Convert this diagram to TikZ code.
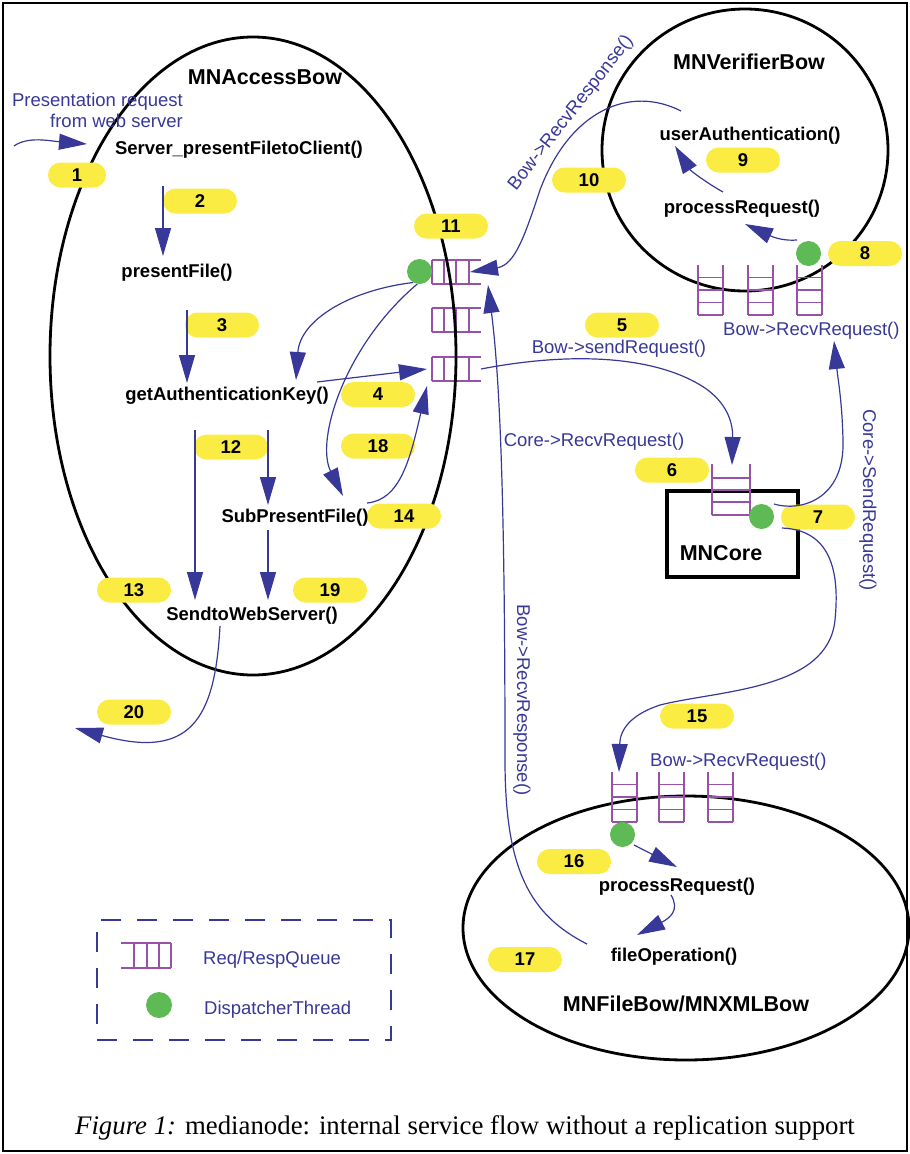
\documentclass[tikz,border=0pt]{standalone}
\usepackage{fontspec}
\setmainfont{Liberation Sans}
\newfontfamily\captionserif{Liberation Serif}
\usetikzlibrary{arrows.meta,shapes.geometric}
\definecolor{flowblue}{RGB}{56,56,152}
\definecolor{queuepurple}{RGB}{150,82,166}
\definecolor{threadgreen}{RGB}{94,186,84}
\definecolor{tagyellow}{RGB}{250,236,66}
\tikzset{
  qline/.style={queuepurple, line width=1.8pt},
  % horizontal request/response queue, closed on the left
  hq/.pic={
    \draw[qline] (0,0) -- (49,0) (0,24) -- (49,24)
      (0,0) -- (0,24) (12,0) -- (12,24) (24,0) -- (24,24) (37,0) -- (37,24);
    \coordinate (-west) at (0,12);
    \coordinate (-east) at (49,12);
  },
  % legend queue, closed on the right
  lq/.pic={
    \draw[qline] (0,0) -- (50,0) (0,25) -- (50,25)
      (13,0) -- (13,25) (26,0) -- (26,25) (38,0) -- (38,25) (50,0) -- (50,25);
  },
  % vertical queue, open at the top
  vq/.pic={
    \draw[qline] (0,0) -- (0,50) (25,0) -- (25,50)
      (0,12.5) -- (25,12.5) (0,25) -- (25,25) (0,37.5) -- (25,37.5) (0,50) -- (25,50);
    \coordinate (-top) at (12.5,0);
  },
  % wider vertical queue of the core
  cq/.pic={
    \draw[qline] (0,0) -- (0,51) (38,0) -- (38,51)
      (0,14) -- (38,14) (0,26) -- (38,26) (0,38) -- (38,38) (0,51) -- (38,51);
    \coordinate (-top) at (19,0);
  },
}
\begin{document}
\begin{tikzpicture}[x=1pt,y=-1pt,
  frame/.style={line width=2pt},
  container/.style={draw, line width=2.8pt, inner sep=0pt},
  flow/.style={flowblue, line width=1.2pt, -{Triangle[length=28pt,width=16pt]}},
  fn/.style={font=\bfseries\fontsize{18.5}{20}\selectfont, inner sep=0pt, anchor=base},
  title/.style={font=\bfseries\fontsize{21.5}{24}\selectfont, inner sep=0pt, anchor=base},
  call/.style={text=flowblue, font=\fontsize{18.5}{20}\selectfont, inner sep=0pt},
  tag/.style={fill=tagyellow, rounded corners=12.5pt, minimum width=74pt, minimum height=25pt,
    inner sep=0pt, font=\bfseries\fontsize{18.5}{20}\selectfont},
  thread/.style={circle, fill=threadgreen, minimum size=25pt, inner sep=0pt},
]
\useasboundingbox (0,0) rectangle (910,1154);
\draw[frame] (3,3) rectangle (907,1151);

% queues of MNAccessBow
\pic (q1) at (432,260) {hq};
\pic (q2) at (432,308) {hq};
\pic (q3) at (432,357) {hq};

% service containers
\node[container, ellipse, minimum width=406pt, minimum height=638pt] (access) at (253,356) {};
\node[container, ellipse, minimum width=286pt, minimum height=282pt] (verifier) at (745,150) {};
\node[container, ellipse, minimum width=446pt, minimum height=264pt] (filebow) at (686,928) {};
\node[container, rectangle, line width=3.6pt, minimum width=131pt, minimum height=86pt] (core) at (732.5,534) {};

% step numbers
\node[tag, minimum width=58pt] (t1) at (77,175) {1};
\node[tag] (t2) at (200,201) {2};
\node[tag] (t3) at (222,325) {3};
\node[tag] (t4) at (378,394.5) {4};
\node[tag] (t5) at (622,325) {5};
\node[tag] (t6) at (672,470) {6};
\node[tag] (t7) at (818,517) {7};
\node[tag] (t8) at (865,253.5) {8};
\node[tag] (t9) at (743,160) {9};
\node[tag] (t10) at (589,180) {10};
\node[tag] (t11) at (451,226) {11};
\node[tag] (t12) at (231,447) {12};
\node[tag] (t13) at (134,590) {13};
\node[tag] (t14) at (404,516) {14};
\node[tag] (t15) at (697,716) {15};
\node[tag] (t16) at (574,861.5) {16};
\node[tag] (t17) at (525,959.5) {17};
\node[tag] (t18) at (378,446) {18};
\node[tag] (t19) at (330,590) {19};
\node[tag] (t20) at (134,712) {20};

% queues of the verifier, the core and the file bow
\pic (vq1) at (698,265) {vq};
\pic (vq2) at (748,265) {vq};
\pic (vq3) at (797,265) {vq};
\pic (cq) at (712,464) {cq};
\pic (fq1) at (612,772) {vq};
\pic (fq2) at (659,772) {vq};
\pic (fq3) at (708,772) {vq};

% dispatcher threads
\node[thread] (d1) at (419.5,271.5) {};
\node[thread] (dver) at (808.5,253.5) {};
\node[thread] (dcore) at (761.5,516.5) {};
\node[thread] (dfile) at (622.5,834.5) {};

% texts
\node[title] (accessT) at (265,84) {MNAccessBow};
\node[fn] (present) at (239,154) {Server\_presentFiletoClient()};
\node[fn] (pfile) at (177,277) {presentFile()};
\node[fn] (authkey) at (227,400) {getAuthenticationKey()};
\node[fn] (subpf) at (295,522) {SubPresentFile()};
\node[fn] (send) at (252,620) {SendtoWebServer()};
\node[title] (verT) at (749,69) {MNVerifierBow};
\node[fn] (userauth) at (750,140) {userAuthentication()};
\node[fn] (vproc) at (742,213) {processRequest()};
\node[title] (coreT) at (721,560) {MNCore};
\node[fn] (fproc) at (677,891) {processRequest()};
\node[fn] (fop) at (674,961) {fileOperation()};
\node[title] (fileT) at (686,1011) {MNFileBow/MNXMLBow};

\node[call, anchor=base east] (req1) at (183,106) {Presentation request};
\node[call, anchor=base east] (req2) at (183,127) {from web server};
\node[call, rotate=52] (respup) at (571,113) {Bow->RecvResponse()};
\node[call, anchor=base] (sendreq) at (619,353) {Bow->sendRequest()};
\node[call, anchor=base west] (recvver) at (723,335) {Bow->RecvRequest()};
\node[call, anchor=base] (corerecv) at (594,446) {Core->RecvRequest()};
\node[call, rotate=-90] (coresend) at (868,500) {Core->SendRequest()};
\node[call, rotate=-90] (respdown) at (522,700) {Bow->RecvResponse()};
\node[call, anchor=base west] (recvfile) at (650,766) {Bow->RecvRequest()};

% connector end points
\coordinate (webin) at (14,146);
\coordinate (webtip) at (87,144);
\coordinate (a2s) at (163,186);
\coordinate (a2e) at (163,256);
\coordinate (a3s) at (187,310);
\coordinate (a3e) at (187,383);
\coordinate (a4s) at (317,382);
\coordinate (a4e) at (427,369);
\coordinate (a5m) at (705,388);
\coordinate (a5e) at (732,465);
\coordinate (a6e) at (296,380);
\coordinate (a18e) at (343,496);
\coordinate (a14s) at (367,503);
\coordinate (a14e) at (427,386);
\coordinate (a12s) at (195,430);
\coordinate (a12e) at (195,600);
\coordinate (a12bs) at (268,430);
\coordinate (a12be) at (268,505);
\coordinate (a19s) at (268,530);
\coordinate (a19e) at (268,600);
\coordinate (a20s) at (220,626);
\coordinate (a20e) at (75,728);
\coordinate (a10s) at (681,111);
\coordinate (a10m) at (540,190);
\coordinate (a10e) at (470,272);
\coordinate (a9s) at (723,192);
\coordinate (a9e) at (675,146);
\coordinate (a8s) at (797,240);
\coordinate (a8e) at (745,224);
\coordinate (a7s) at (774,504);
\coordinate (a7m) at (843,440);
\coordinate (a7e) at (834,341);
\coordinate (a15s) at (782,528);
\coordinate (a15m) at (835,620);
\coordinate (a15n) at (660,705);
\coordinate (a15e) at (619,772);
\coordinate (a16s) at (634,845);
\coordinate (a16e) at (677,867);
\coordinate (a17s) at (671,895);
\coordinate (a17e) at (637,935);
\coordinate (a17bs) at (587,944);
\coordinate (a17bm) at (505,760);
\coordinate (a17be) at (488,285);

% connectors
\draw[flow] (webin) .. controls (28,136) and (50,141) .. (webtip);
\draw[flow] (a2s) -- (a2e);
\draw[flow] (a3s) -- (a3e);
\draw[flow] (a4s) -- (a4e);
\draw[flow] (q3-east) .. controls (580,350) and (660,358) .. (a5m)
  .. controls (725,402) and (733,420) .. (a5e);
\draw[flow] (d1.240) .. controls (350,290) and (300,320) .. (a6e);
\draw[flow] (d1.260) .. controls (345,345) and (315,440) .. (a18e);
\draw[flow] (a14s) .. controls (400,500) and (410,460) .. (a14e);
\draw[flow] (a12s) -- (a12e);
\draw[flow] (a12bs) -- (a12be);
\draw[flow] (a19s) -- (a19e);
\draw[flow] (a20s) .. controls (215,720) and (190,760) .. (a20e);
\draw[flow] (a10s) .. controls (630,85) and (570,110) .. (a10m)
  .. controls (525,235) and (515,265) .. (a10e);
\draw[flow] (a9s) .. controls (705,182) and (690,170) .. (a9e);
\draw[flow] (a8s) .. controls (785,241) and (775,238) .. (a8e);
\draw[flow] (a7s) .. controls (800,512) and (845,500) .. (a7m)
  .. controls (842,400) and (838,380) .. (a7e);
\draw[flow] (a15s) .. controls (830,530) and (840,570) .. (a15m)
  .. controls (828,690) and (720,690) .. (a15n)
  .. controls (630,715) and (620,730) .. (a15e);
\draw[flow] (a16s) -- (a16e);
\draw[flow] (a17s) .. controls (680,910) and (670,918) .. (a17e);
\draw[flow] (a17bs) .. controls (530,915) and (505,870) .. (a17bm)
  .. controls (505,500) and (500,380) .. (a17be);

% legend
\node[draw=flowblue, line width=2.2pt, dash pattern=on 20pt off 16pt,
  minimum width=294pt, minimum height=120pt, inner sep=0pt] (legend) at (244,980) {};
\pic (legq) at (121,943) {lq};
\node[thread, minimum size=26pt] (legdot) at (159,1005) {};
\node[call, anchor=base west] (legq-text) at (203,964) {Req/RespQueue};
\node[call, anchor=base west] (legdot-text) at (204,1014) {DispatcherThread};

% caption
\node[font=\captionserif\fontsize{26.8}{30}\selectfont, anchor=base, inner sep=0pt] (caption) at (465,1134)
  {\textit{Figure 1:} medianode: internal service flow without a replication support};
\end{tikzpicture}
\end{document}
